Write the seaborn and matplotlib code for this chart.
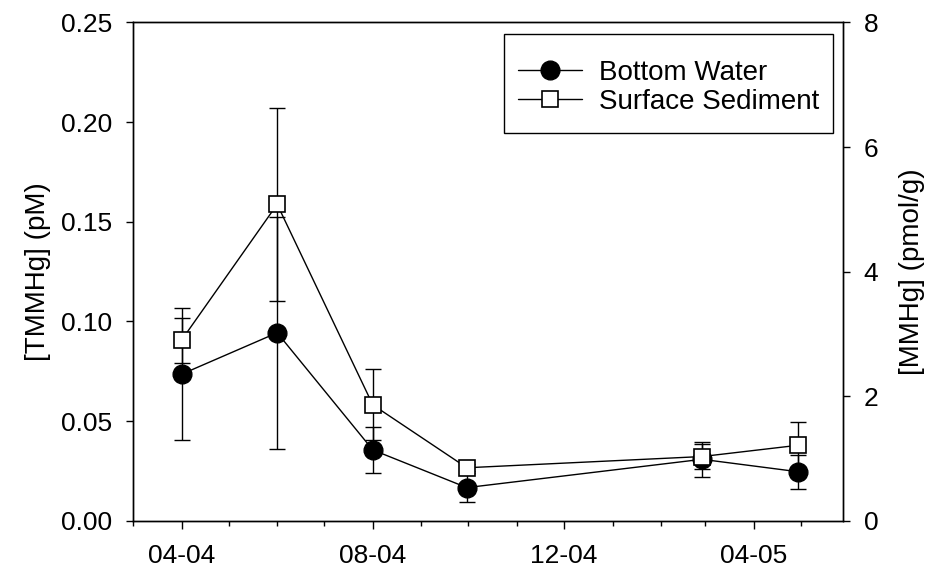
import matplotlib
matplotlib.use("Agg")
import matplotlib.pyplot as plt
import matplotlib.dates as mdates
from matplotlib.lines import Line2D
from matplotlib.patches import Rectangle
import numpy as np
import pandas as pd
import seaborn as sns

# Sampling dates
sample_dates = ["2004-04-01", "2004-06-01", "2004-08-01", "2004-09-30",
                "2005-02-27", "2005-04-29"]

# Bottom water total methylmercury (pM), mean and error
bottom_water = [0.0735, 0.0943, 0.0355, 0.0166, 0.0308, 0.0246]
bottom_water_err = [0.0330, 0.0582, 0.0117, 0.0073, 0.0087, 0.0085]

# Surface sediment methylmercury (pmol/g), mean and error
surface_sediment = [2.90, 5.08, 1.86, 0.85, 1.03, 1.21]
surface_sediment_err = [0.36, 1.55, 0.57, 0.06, 0.20, 0.37]

series_names = ["Bottom Water", "Surface Sediment"]
x_tick_months = [4, 8, 12]

sns.set_style("ticks")
plt.rcParams["font.family"] = ["Liberation Sans", "DejaVu Sans"]
plt.rcParams["font.size"] = 19
for key in ("text.color", "axes.labelcolor", "xtick.color", "ytick.color",
            "axes.edgecolor"):
    plt.rcParams[key] = "black"

dates = pd.to_datetime(sample_dates)
df_bw = pd.DataFrame({"date": dates, "value": bottom_water, "err": bottom_water_err})
df_ss = pd.DataFrame({"date": dates, "value": surface_sediment, "err": surface_sediment_err})

fig = plt.figure(figsize=(9.32, 5.69), dpi=100)
ax1 = fig.add_axes([0.1427, 0.0849, 0.7618, 0.8756])
ax2 = ax1.twinx()

lw = 1.0
cap = 5.6

# Bottom water on the left axis
ax1.errorbar(df_bw["date"], df_bw["value"], yerr=df_bw["err"], fmt="none",
             ecolor="black", elinewidth=lw, capsize=cap, capthick=lw, zorder=1)
sns.lineplot(data=df_bw, x="date", y="value", ax=ax1, color="black", lw=lw,
             marker="o", markersize=13.5, markerfacecolor="black",
             markeredgecolor="black", markeredgewidth=1.0, zorder=2,
             legend=False)

# Surface sediment on the right axis
ax2.errorbar(df_ss["date"], df_ss["value"], yerr=df_ss["err"], fmt="none",
             ecolor="black", elinewidth=lw, capsize=cap, capthick=lw, zorder=1)
sns.lineplot(data=df_ss, x="date", y="value", ax=ax2, color="black", lw=lw,
             marker="s", markersize=11.5, markerfacecolor="white",
             markeredgecolor="black", markeredgewidth=1.2, zorder=2,
             legend=False)

ax1.set_xlim(pd.Timestamp("2004-03-01"), pd.Timestamp("2005-05-28"))
ax1.set_ylim(0, 0.25)
ax2.set_ylim(0, 8)

ax1.xaxis.set_major_locator(mdates.MonthLocator(bymonth=x_tick_months))
ax1.xaxis.set_minor_locator(mdates.MonthLocator())
ax1.xaxis.set_major_formatter(mdates.DateFormatter("%m-%y"))
ax1.set_yticks(np.arange(0, 0.2501, 0.05))
ax1.yaxis.set_major_formatter(matplotlib.ticker.FormatStrFormatter("%.2f"))
ax2.set_yticks(np.arange(0, 8.01, 2))

ax1.set_xlabel("")
ax1.set_ylabel("[TMMHg] (pM)", fontsize=20, labelpad=7)
ax2.set_ylabel("[MMHg] (pmol/g)", fontsize=20, labelpad=15)

for ax in (ax1, ax2):
    for side in ("top", "right", "left", "bottom"):
        ax.spines[side].set_visible(True)
        ax.spines[side].set_color("black")
        ax.spines[side].set_linewidth(1.0)
    ax.tick_params(axis="y", which="major", direction="out", length=5,
                   width=1.0, color="black", labelsize=19, pad=10,
                   labelcolor="black")
ax1.tick_params(axis="x", which="major", direction="out", length=5.5,
                width=1.0, color="black", labelsize=19, pad=11,
                labelcolor="black")
ax1.tick_params(axis="x", which="minor", direction="out", length=3.5,
                width=1.0, color="black")
ax2.tick_params(axis="y", which="minor", length=0)

handles = [
    Line2D([], [], color="black", lw=lw, marker="o", markersize=13.5,
           markerfacecolor="black", markeredgecolor="black"),
    Line2D([], [], color="black", lw=lw, marker="s", markersize=11.5,
           markerfacecolor="white", markeredgecolor="black", markeredgewidth=1.2),
]
leg = ax2.legend(handles, series_names, loc="upper right",
                 bbox_to_anchor=(1.0, 0.973), borderaxespad=0.36,
                 fontsize=20, frameon=False, handlelength=2.3,
                 handletextpad=0.6, borderpad=0.5, labelspacing=0.12)
leg.set_zorder(6)

# Legend box with extra room above and below the entries
fig.canvas.draw()
bb = leg.get_window_extent(fig.canvas.get_renderer())
inv = ax2.transAxes.inverted()
x0, y0 = inv.transform((bb.x0, bb.y0 - 4))
x1, y1 = inv.transform((bb.x1, bb.y1 + 12))
ax2.add_artist(Rectangle((x0, y0), x1 - x0, y1 - y0, transform=ax2.transAxes,
                         facecolor="white", edgecolor="black", lw=1.0,
                         zorder=4.5, clip_on=False))

fig.savefig("out.png", dpi=100, facecolor="white")
